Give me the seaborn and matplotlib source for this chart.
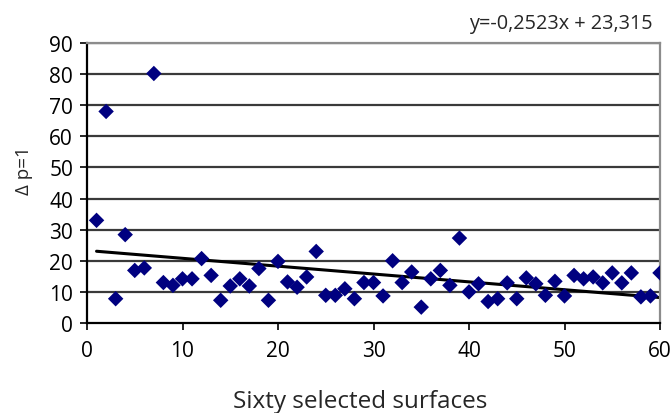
import numpy as np
import pandas as pd
import matplotlib
matplotlib.use("Agg")
import matplotlib.pyplot as plt
import seaborn as sns

surface = list(range(1, 61))
delta = [33.0, 68.0, 7.8, 28.4, 16.9, 17.7, 80.2, 13.0, 12.1, 14.2,
         14.2, 20.7, 15.3, 7.3, 11.9, 14.2, 11.9, 17.5, 7.3, 19.8,
         13.2, 11.5, 14.8, 23.0, 8.9, 8.9, 11.0, 7.8, 13.0, 13.0,
         8.7, 20.0, 13.0, 16.4, 5.1, 14.2, 16.9, 12.1, 27.3, 10.0,
         12.6, 6.9, 7.8, 12.9, 7.8, 14.5, 12.6, 8.9, 13.4, 8.7,
         15.3, 14.2, 14.8, 12.9, 16.1, 12.9, 16.1, 8.4, 8.7, 16.1]
slope = -0.2523
intercept = 23.315
equation = "y=-0,2523x + 23,315"
x_ticks = [0, 10, 20, 30, 40, 50, 60]
y_ticks = [0, 10, 20, 30, 40, 50, 60, 70, 80, 90]

sns.set_theme(style="white")
plt.rcParams['font.family'] = ['Open Sans', 'DejaVu Sans']

df = pd.DataFrame({"x": surface, "y": delta})
trend = pd.DataFrame({"x": [surface[0], surface[-1]]})
trend["y"] = slope * trend["x"] + intercept

fig = plt.figure(figsize=(6.71, 4.14), dpi=100)
ax = fig.add_axes([87/671, 1 - 324/414, (660-87)/671, (324-44)/414])

for yv in y_ticks[1:]:
    ax.axhline(yv, color="#3a3a3a", lw=1.6, zorder=1)

sns.lineplot(data=trend, x="x", y="y", ax=ax, color="black", lw=2.2, zorder=2)
sns.scatterplot(data=df, x="x", y="y", ax=ax, marker="D", s=62,
                color="#000080", edgecolor="none", zorder=3)

ax.set_xlim(0, 60)
ax.set_ylim(0, 90)
ax.set_xticks(x_ticks)
ax.set_yticks(y_ticks)
ax.tick_params(axis="both", labelsize=15, length=5, width=1.2, colors="black",
               direction="out", pad=5)
ax.tick_params(axis="x", pad=7)
for s in ["left", "bottom"]:
    ax.spines[s].set_color("black")
    ax.spines[s].set_linewidth(1.6)
for s in ["top", "right"]:
    ax.spines[s].set_color("#8c8c8c")
    ax.spines[s].set_linewidth(1.6)
ax.tick_params(axis="both", which="both", left=True, bottom=True)

ax.set_xlabel("Sixty selected surfaces", fontsize=17.5, va="center")
ax.xaxis.set_label_coords((360 - 87) / 573, (324 - 402) / 280)
ax.set_ylabel("\u0394 p=1", fontsize=13.5, va="center")
ax.yaxis.set_label_coords((24 - 87) / 573, (324 - 171) / 280)
fig.text(653/671, 1 - 24/414, equation, ha="right", va="center", fontsize=14.3)

fig.savefig("out.png", dpi=100)
